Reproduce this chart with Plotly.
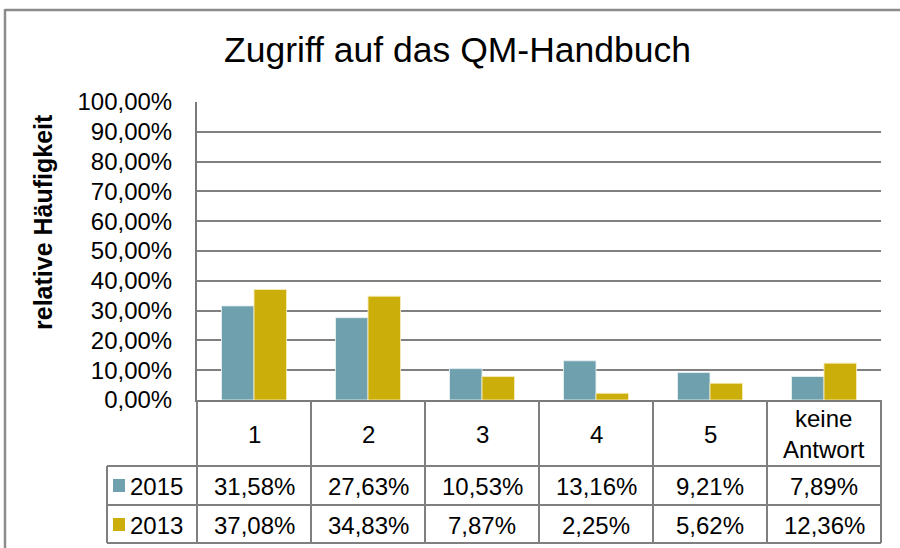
import plotly.graph_objects as go

# ---- data ----
categories = ["1", "2", "3", "4", "5", "keine Antwort"]
category_labels = ["1", "2", "3", "4", "5", "keine<br>Antwort"]
series_names = ["2015", "2013"]
values_2015 = [0.3158, 0.2763, 0.1053, 0.1316, 0.0921, 0.0789]
values_2013 = [0.3708, 0.3483, 0.0787, 0.0225, 0.0562, 0.1236]
table_2015 = ["31,58%", "27,63%", "10,53%", "13,16%", "9,21%", "7,89%"]
table_2013 = ["37,08%", "34,83%", "7,87%", "2,25%", "5,62%", "12,36%"]

title_text = "Zugriff auf das QM-Handbuch"
y_title = "relative Häufigkeit"

# ---- styling ----
C2015 = "#6fa0ae"
C2013 = "#ccae0a"
GRID = "#808080"
FONT = "Liberation Sans, Arial, sans-serif"

W, H = 900, 548
L, R, T, B = 197, 881, 102, 400


def px(xp):
    return (xp - L) / (R - L)


def py(yp):
    return (B - yp) / (B - T)


fig = go.Figure()
fig.add_trace(go.Bar(x=categories, y=values_2015, name=series_names[0],
                     marker=dict(color=C2015, line=dict(color="rgba(230,240,242,0.9)", width=1))))
fig.add_trace(go.Bar(x=categories, y=values_2013, name=series_names[1],
                     marker=dict(color=C2013, line=dict(color="rgba(245,235,190,0.9)", width=1))))

shapes = []
line = dict(color="#7f7f7f", width=2)
# outer chart frame (top + left visible)
shapes.append(dict(type="line", xref="paper", yref="paper", x0=px(5), x1=px(905), y0=py(10), y1=py(10),
                   line=dict(color="#8c8c8c", width=2.5)))
shapes.append(dict(type="line", xref="paper", yref="paper", x0=px(5), x1=px(5), y0=py(9), y1=py(560),
                   line=dict(color="#8c8c8c", width=2.5)))

# data table grid
row_lines = [466, 505, 543]
for yl in row_lines:
    shapes.append(dict(type="line", xref="paper", yref="paper", x0=px(107), x1=1, y0=py(yl), y1=py(yl), line=line))
n = len(categories)
for k in range(n + 1):
    shapes.append(dict(type="line", xref="paper", yref="paper", x0=k / n, x1=k / n, y0=0, y1=py(543), line=line))
shapes.append(dict(type="line", xref="paper", yref="paper", x0=px(107), x1=px(107), y0=py(466), y1=py(543), line=line))

annotations = []
# title
annotations.append(dict(text=title_text, xref="paper", yref="paper", x=px(457), y=py(50),
                        showarrow=False, xanchor="center", yanchor="middle",
                        font=dict(size=35.5, color="black", family=FONT)))
# y title
annotations.append(dict(text="<b>" + y_title + "</b>", xref="paper", yref="paper", x=px(43), y=py(222),
                        showarrow=False, textangle=-90, xanchor="center", yanchor="middle",
                        font=dict(size=25, color="black", family=FONT)))
# category row (x given as category index on the category axis)
for i, lab in enumerate(category_labels):
    annotations.append(dict(text=lab, xref="x", yref="paper", x=i, y=py(434), showarrow=False,
                            xanchor="center", yanchor="middle",
                            font=dict(size=24, color="black", family=FONT)))
# value rows
for i, v in enumerate(table_2015):
    annotations.append(dict(text=v, xref="x", yref="paper", x=i, y=py(486), showarrow=False,
                            xanchor="center", yanchor="middle",
                            font=dict(size=24, color="black", family=FONT)))
for i, v in enumerate(table_2013):
    annotations.append(dict(text=v, xref="x", yref="paper", x=i, y=py(525), showarrow=False,
                            xanchor="center", yanchor="middle",
                            font=dict(size=24, color="black", family=FONT)))
# legend keys in table
for name, col, yc in [(series_names[0], C2015, 486), (series_names[1], C2013, 525)]:
    shapes.append(dict(type="rect", xref="paper", yref="paper", x0=px(113), x1=px(125),
                       y0=py(yc + 6), y1=py(yc - 7), fillcolor=col, line=dict(width=0)))
    annotations.append(dict(text=name, xref="paper", yref="paper", x=px(128), y=py(yc), showarrow=False,
                            xanchor="left", yanchor="middle",
                            font=dict(size=24, color="black", family=FONT)))

fig.update_layout(
    width=W, height=H, autosize=False,
    margin=dict(l=L, r=W - R, t=T, b=H - B),
    paper_bgcolor="white", plot_bgcolor="white",
    separators=",.",
    barmode="group", bargap=0.43, bargroupgap=0,
    showlegend=False,
    font=dict(family=FONT, color="black"),
    shapes=shapes, annotations=annotations,
)
fig.update_xaxes(showticklabels=False, ticks="", showgrid=False, showline=True,
                 linecolor="#7a7a7a", linewidth=2, mirror=False, zeroline=False)
fig.update_yaxes(range=[0, 1], dtick=0.1, tick0=0, tickformat=".2%", showgrid=True,
                 gridcolor=GRID, gridwidth=1.6, showline=True, linecolor="#7a7a7a", linewidth=2,
                 zeroline=False, ticks="", ticklabelstandoff=18,
                 tickfont=dict(size=24, color="black", family=FONT))

fig.write_html("out.html", config={"displayModeBar": False},
               post_script="document.body.style.margin='0';")
